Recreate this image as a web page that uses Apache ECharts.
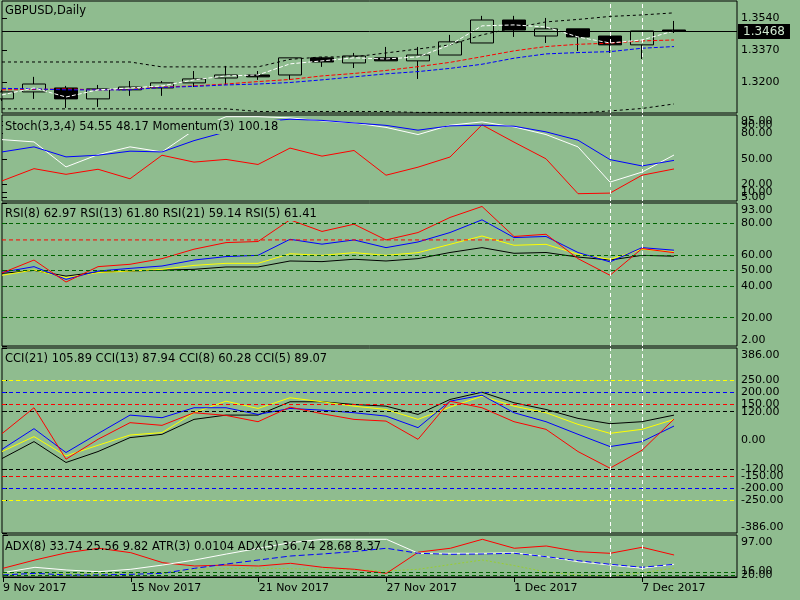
<!DOCTYPE html>
<html>
<head>
<meta charset="utf-8">
<script src="https://cdn.jsdelivr.net/npm/echarts@6.0.0/dist/echarts.min.js"></script>
<style>
  html, body { margin: 0; padding: 0; background: #8fbc8f; }
  #chart { width: 800px; height: 600px; }
</style>
</head>
<body>
<div id="chart"></div>
<script>
// bars: 9 Nov 2017 .. 8 Dec 2017 (daily)
const dates = ['9 Nov 2017', '10 Nov 2017', '13 Nov 2017', '14 Nov 2017', '15 Nov 2017', '16 Nov 2017',
  '17 Nov 2017', '20 Nov 2017', '21 Nov 2017', '22 Nov 2017', '23 Nov 2017', '24 Nov 2017', '27 Nov 2017',
  '28 Nov 2017', '29 Nov 2017', '30 Nov 2017', '1 Dec 2017', '4 Dec 2017', '5 Dec 2017', '6 Dec 2017',
  '7 Dec 2017', '8 Dec 2017'];
const dateTicks = [0, 4, 8, 12, 16, 20];
const markedBars = [19, 20];

// open, close, low, high
const ohlc = [
  [1.3110, 1.3147, 1.3099, 1.3158], [1.3147, 1.3189, 1.3110, 1.3227], [1.3168, 1.3110, 1.3062, 1.3179],
  [1.3110, 1.3163, 1.3067, 1.3184], [1.3158, 1.3173, 1.3126, 1.3205], [1.3168, 1.3195, 1.3126, 1.3205],
  [1.3195, 1.3216, 1.3173, 1.3258], [1.3221, 1.3237, 1.3184, 1.3285], [1.3237, 1.3227, 1.3211, 1.3258],
  [1.3237, 1.3328, 1.3211, 1.3328], [1.3328, 1.3306, 1.3280, 1.3333], [1.3301, 1.3338, 1.3274, 1.3354],
  [1.3328, 1.3312, 1.3312, 1.3386], [1.3312, 1.3343, 1.3216, 1.3386], [1.3343, 1.3413, 1.3343, 1.3450],
  [1.3407, 1.3529, 1.3407, 1.3551], [1.3529, 1.3476, 1.3439, 1.3551], [1.3444, 1.3482, 1.3407, 1.3540],
  [1.3482, 1.3439, 1.3365, 1.3482], [1.3444, 1.3397, 1.3354, 1.3444], [1.3397, 1.3471, 1.3322, 1.3471],
  [1.3476, 1.3468, 1.3460, 1.3524]
];
const lastPrice = 1.3468;
const priceTicks = [1.3200, 1.3370, 1.3540];

const bandUpper = [1.3306, 1.3306, 1.3306, 1.3306, 1.3306, 1.3280, 1.3280, 1.3280, 1.3280, 1.3320, 1.3333,
  1.3333, 1.3354, 1.3375, 1.3397, 1.3450, 1.3487, 1.3519, 1.3532, 1.3548, 1.3556, 1.3567];
const bandLower = [1.3057, 1.3057, 1.3057, 1.3057, 1.3057, 1.3057, 1.3057, 1.3057, 1.3043, 1.3043, 1.3043,
  1.3043, 1.3043, 1.3038, 1.3038, 1.3038, 1.3038, 1.3038, 1.3035, 1.3046, 1.3059, 1.3083];
const maWhite = [1.3131, 1.3168, 1.3120, 1.3158, 1.3168, 1.3179, 1.3211, 1.3232, 1.3237, 1.3296, 1.3312,
  1.3328, 1.3322, 1.3333, 1.3397, 1.3498, 1.3503, 1.3492, 1.3439, 1.3407, 1.3423, 1.3471];
const maRed = [1.3158, 1.3160, 1.3163, 1.3158, 1.3160, 1.3173, 1.3179, 1.3189, 1.3202, 1.3213, 1.3232,
  1.3245, 1.3261, 1.3281, 1.3304, 1.3334, 1.3365, 1.3388, 1.3400, 1.3406, 1.3418, 1.3423];
const maBlue = [1.3166, 1.3163, 1.3158, 1.3158, 1.3158, 1.3171, 1.3176, 1.3184, 1.3189, 1.3197, 1.3211,
  1.3227, 1.3243, 1.3255, 1.3272, 1.3294, 1.3326, 1.3349, 1.3356, 1.3361, 1.3379, 1.3388];

// Stoch(3,3,4) + Momentum(3)
const stochMain = [72.8, 70.1, 40.4, 55.0, 64.2, 58.2, 84.0, 100, 100, 98.6, 95.0, 92.6, 87.3, 78.8, 89.9,
  93.8, 87.9, 78.8, 64.2, 22.4, 34.3, 54.55];
const stochSignal = [58.2, 64.2, 52.3, 54.3, 59.1, 58.2, 71.6, 82.0, 94.0, 97.0, 95.6, 92.6, 89.7, 84.0, 89.1,
  89.9, 88.7, 82.0, 72.1, 49.1, 41.6, 48.17];
const momentum = [99.78, 100.19, 100.00, 100.17, 99.85, 100.64, 100.41, 100.50, 100.33, 100.88, 100.61, 100.80,
  99.97, 100.24, 100.58, 101.66, 101.08, 100.52, 99.35, 99.37, 99.97, 100.18];
const stochLevels = [5, 10, 20, 50, 80, 90, 95];
const stochLabels = [5, 20, 50, 80, 95];
const stochLabels2 = [10, 90];

// RSI
const rsi5 = [48.5, 56.7, 42.7, 52.5, 54.0, 57.6, 63.6, 67.8, 68.5, 82.3, 74.9, 79.5, 69.5, 74.2, 83.8, 90.8,
  71.7, 73.1, 57.6, 47.0, 64.0, 61.41];
const rsi8 = [48.9, 52.5, 44.4, 49.7, 51.4, 52.9, 56.7, 58.9, 59.7, 69.9, 66.8, 69.5, 64.6, 68.2, 74.2, 82.3,
  71.0, 71.7, 61.5, 55.5, 64.6, 62.97];
const rsi13 = [47.0, 50.4, 45.5, 48.7, 49.7, 50.8, 53.3, 54.6, 54.6, 60.7, 59.7, 61.4, 59.7, 61.4, 66.7, 72.0,
  66.1, 66.7, 60.4, 57.2, 63.6, 61.80];
const rsi21 = [48.2, 50.1, 46.5, 49.0, 49.7, 50.3, 50.8, 52.3, 52.3, 56.1, 55.7, 57.2, 56.1, 57.6, 61.5, 64.6,
  61.0, 61.5, 58.6, 56.7, 59.7, 59.14];
const rsiRedLevel = [69.5, 69.5, 69.5, 69.5, 69.5, 69.5, 69.5, 69.5, 69.5, 69.5, 69.5, 69.5, 69.5, 69.5, 69.5,
  69.5, 69.5];
const rsiLevels = [20, 40, 50, 60, 80];
const rsiTicks = [2, 20, 40, 50, 60, 80, 93];

// CCI
const cci5 = [28.7, 136.7, -78.1, 5.0, 74.4, 63.2, 115.9, 104.7, 78.5, 139.2, 111.8, 88.1, 81.0, 5.0, 164.1,
  136.7, 78.5, 46.5, -46.1, -115.5, -40.7, 89.07];
const cci8 = [-36.6, 49.4, -50.3, 28.7, 105.9, 95.1, 136.7, 136.7, 108.8, 133.7, 126.6, 115.9, 101.8, 53.6,
  164.1, 189.0, 115.9, 78.5, 25.8, -25.3, -4.6, 60.28];
const cci13 = [-46.1, 16.2, -64.4, -19.9, 22.9, 32.8, 115.9, 164.1, 133.7, 178.2, 161.6, 143.3, 129.6, 88.1,
  139.2, 184.9, 143.3, 115.9, 67.3, 29.9, 46.5, 87.94];
const cci21 = [-75.2, -4.6, -91.8, -46.1, 12.0, 25.8, 88.1, 106.0, 106.0, 161.6, 161.6, 150.4, 143.3, 108.8,
  171.2, 201.5, 157.5, 129.6, 92.2, 70.2, 78.5, 105.89];
const cciTicks = [-386, -250, -200, -150, -120, 0, 120, 150, 200, 250, 386];

// ADX / ATR window
const adxWhite = [24.3, 34.7, 29.5, 26.2, 30.9, 39.1, 48.8, 60.4, 71.4, 82.2, 88.7, 88.7, 88.7, 61.7, 61.7,
  61.7, 62.9, 55.2, 45.5, 39.1, 32.8, 40.5];
const adxBlue = [19.9, 23.1, 19.9, 19.9, 21.2, 23.1, 32.8, 41.1, 48.8, 56.5, 60.4, 65.2, 71.4, 61.7, 59.8,
  60.4, 61.7, 55.2, 47.4, 40.5, 34.7, 40.5];
const adxRed = [32.8, 48.8, 62.9, 71.4, 62.9, 43.6, 37.2, 39.1, 37.2, 42.4, 34.7, 30.9, 23.1, 64.0, 71.4,
  88.7, 71.4, 75.8, 64.8, 61.7, 73.3, 58.4];
const atrLine = [22.0, 22.0, 22.0, 22.0, 22.0, 23.7, 31.0, 32.0, 33.0, 32.0, 31.0, 30.0, 27.6, 30.9, 40.0,
  48.8, 38.0, 25.6, 20.0, 18.0, 24.0, 33.0];
const adxLevels = [20, 25];
const adxTicks = [16, 20, 97];
const adxLabels = [16, 97];
const adxLabels2 = [20];

const BG = '#8fbc8f';
const FONT = 'DejaVu Sans';
const LEVEL = '#006400';
const XMAX = 735 / 32;

function xy(arr) {
  return arr.map((v, i) => [i, v]);
}

function xAx(gi, last) {
  const ax = {
    type: 'value', gridIndex: gi, min: 0, max: XMAX, show: last,
    splitLine: {show: false}
  };
  if (last) {
    ax.axisLine = {show: true, lineStyle: {color: '#000'}};
    ax.axisTick = {show: true, customValues: dateTicks.slice(), length: 5, lineStyle: {color: '#000'}};
    ax.axisLabel = {
      customValues: dateTicks.slice(), formatter: v => dates[v], align: 'left', margin: 6,
      color: '#000', fontFamily: FONT, fontSize: 11
    };
  }
  return ax;
}

// edge labels (window max / min) are drawn a few pixels inside the window, like the terminal does
function yAx(gi, min, max, height, ticks, labels, digits, edges) {
  const perPx = (max - min) / height;
  const texts = labels.map(v => v.toFixed(digits));
  const spots = labels.map(v => {
    if (edges && v === max) return max - 7 * perPx;
    if (edges && v === min) return min + 6 * perPx;
    return v;
  });
  return {
    type: 'value', gridIndex: gi, position: 'right', min: min, max: max,
    axisLine: {show: false}, splitLine: {show: false},
    axisTick: {show: ticks.length > 0, customValues: ticks.slice(), length: 5, lineStyle: {color: '#000'}},
    axisLabel: {
      customValues: spots,
      formatter: v => {
        const k = spots.findIndex(s => Math.abs(s - v) < perPx * 0.01);
        return k >= 0 ? texts[k] : '';
      },
      showMinLabel: true, showMaxLabel: true, hideOverlap: false,
      margin: 4, color: '#000', fontFamily: FONT, fontSize: 11
    }
  };
}

function line(name, data, gi, yi, color, dash, z) {
  return {
    name: name, type: 'line', xAxisIndex: gi, yAxisIndex: yi, data: xy(data),
    symbol: 'none', z: z || 3, silent: true,
    lineStyle: {color: color, width: 1, type: dash || 'solid'}
  };
}

function marks(levels, color, withBars) {
  const data = levels.map(v => ({yAxis: v, lineStyle: {color: color, type: [4, 3], width: 1}}));
  if (withBars) {
    markedBars.forEach(b => data.push({xAxis: b, lineStyle: {color: '#fff', type: [4, 3], width: 1}}));
  }
  return {symbol: ['none', 'none'], silent: true, precision: 4, label: {show: false}, animation: false, data: data};
}

function caption(text, top, bg) {
  return {
    text: text, left: 3, top: top, padding: [0, 2], backgroundColor: bg === false ? 'transparent' : BG,
    textStyle: {color: '#000', fontFamily: FONT, fontSize: 11.5, fontWeight: 'normal', lineHeight: 14}
  };
}

const grids = [
  {left: 2, right: 63, top: 1, height: 112},
  {left: 2, right: 63, top: 115, height: 86},
  {left: 2, right: 63, top: 203, height: 143},
  {left: 2, right: 63, top: 348, height: 185},
  {left: 2, right: 63, top: 535, height: 42}
].map(g => Object.assign(g, {show: true, borderColor: '#000', borderWidth: 1, backgroundColor: 'transparent'}));

// current price line + box, and the two vertical marker lines
const priceMarks = marks([], '#000', true);
priceMarks.data.push({
  yAxis: lastPrice,
  lineStyle: {color: '#000', type: 'solid', width: 1},
  label: {
    show: true, position: 'end', distance: 1, formatter: lastPrice.toFixed(4),
    backgroundColor: '#000', color: '#cfe8cf', padding: [2, 5, 1, 5],
    fontFamily: FONT, fontSize: 12
  }
});

const series = [
  {
    type: 'candlestick', xAxisIndex: 0, yAxisIndex: 0, z: 2, silent: true,
    data: ohlc.map((d, i) => [i, d[0], d[1], d[2], d[3]]),
    encode: {x: 0, y: [1, 2, 3, 4]},
    barWidth: 23,
    itemStyle: {color: 'transparent', color0: '#000', borderColor: '#000', borderColor0: '#000', borderWidth: 1}
  },
  Object.assign(line('upper', bandUpper, 0, 0, '#000', [3, 3]), {markLine: priceMarks}),
  line('lower', bandLower, 0, 0, '#000', [3, 3]),
  line('ma red', maRed, 0, 0, '#ff0000', [4, 2]),
  line('ma blue', maBlue, 0, 0, '#0000ff', [4, 2]),
  line('ma white', maWhite, 0, 0, '#ffffff', [4, 2]),

  Object.assign(line('Momentum(3)', momentum, 1, 2, '#ff0000'), {markLine: marks(stochLevels, LEVEL, true)}),
  line('Stoch main', stochMain, 1, 1, '#ffffff'),
  line('Stoch signal', stochSignal, 1, 1, '#0000ff'),

  Object.assign(line('RSI(21)', rsi21, 2, 4, '#000'), {markLine: marks(rsiLevels, LEVEL, true)}),
  line('RSI(13)', rsi13, 2, 4, '#ffff00'),
  line('RSI(8)', rsi8, 2, 4, '#0000ff'),
  line('RSI level', rsiRedLevel, 2, 4, '#ff0000', [4, 3]),
  line('RSI(5)', rsi5, 2, 4, '#ff0000'),

  Object.assign(line('CCI(21)', cci21, 3, 5, '#000'), {markLine: marks([120, -120], '#000', true)}),
  Object.assign(line('CCI(13)', cci13, 3, 5, '#ffff00'), {markLine: marks([250, -250], '#ffff00', false)}),
  Object.assign(line('CCI(8)', cci8, 3, 5, '#0000ff'), {markLine: marks([200, -200], '#0000ff', false)}),
  Object.assign(line('CCI(5)', cci5, 3, 5, '#ff0000'), {markLine: marks([150, -150], '#ff0000', false)}),

  Object.assign(line('ATR(3)', atrLine, 4, 6, '#9acd32', [2, 2]), {markLine: marks(adxLevels, LEVEL, true)}),
  line('ADX red', adxRed, 4, 6, '#ff0000'),
  line('ADX white', adxWhite, 4, 6, '#ffffff'),
  line('ADX blue', adxBlue, 4, 6, '#0000ff', [6, 3])
];

const option = {
  animation: false,
  backgroundColor: BG,
  title: [
    caption('GBPUSD,Daily', 4),
    caption('Stoch(3,3,4) 54.55 48.17 Momentum(3) 100.18', 120),
    caption('RSI(8) 62.97 RSI(13) 61.80 RSI(21) 59.14 RSI(5) 61.41', 207),
    caption('CCI(21) 105.89 CCI(13) 87.94 CCI(8) 60.28 CCI(5) 89.07', 352),
    caption('ADX(8) 33.74 25.56 9.82 ATR(3) 0.0104 ADX(5) 36.74 28.68 8.37', 540, false)
  ],
  grid: grids,
  xAxis: [xAx(0, false), xAx(1, false), xAx(2, false), xAx(3, false), xAx(4, true)],
  yAxis: [
    yAx(0, 1.3035, 1.3630, 112, priceTicks, priceTicks, 4, false),
    yAx(1, 0, 102, 86, stochLevels, stochLabels, 2, false),
    Object.assign(yAx(1, 99.105, 101.99, 86, [], [], 2, false), {show: false}),
    yAx(1, 0, 102, 86, [], stochLabels2, 2, false),
    yAx(2, 2, 93, 143, rsiTicks, rsiTicks, 2, true),
    yAx(3, -386, 386, 185, cciTicks, cciTicks, 2, true),
    yAx(4, 16, 97, 42, adxTicks, adxLabels, 2, true),
    yAx(4, 16, 97, 42, [], adxLabels2, 2, false)
  ],
  series: series
};

const chart = echarts.init(document.getElementById('chart'));
chart.setOption(option);
</script>
</body>
</html>
